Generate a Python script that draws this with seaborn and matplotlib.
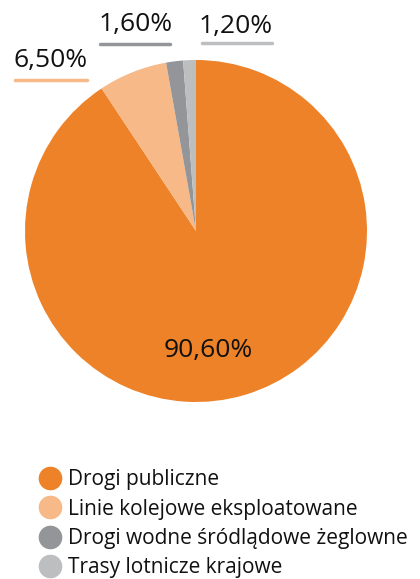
import matplotlib
matplotlib.use("Agg")
import matplotlib.pyplot as plt
from matplotlib.lines import Line2D
import seaborn as sns

# data
categories = ["Drogi publiczne", "Linie kolejowe eksploatowane",
              "Drogi wodne śródlądowe żeglowne", "Trasy lotnicze krajowe"]
shares = [90.6, 6.5, 1.6, 1.2]
labels = ["90,60%", "6,50%", "1,60%", "1,20%"]
colors = ["#ED8229", "#F6B987", "#939598", "#BCBEC0"]

sns.set_theme(style="white")
plt.rcParams['font.family'] = ['Open Sans', 'DejaVu Sans']

W, H = 420, 579
fig = plt.figure(figsize=(W / 100, H / 100), dpi=100)

# pie axes placed in pixels: centre (196, 231), radius 171
cx, cy, r = 196, 231, 171
ax = fig.add_axes([(cx - r) / W, 1 - (cy + r) / H, 2 * r / W, 2 * r / H])
ax.pie(shares, colors=colors, startangle=90, counterclock=False,
       radius=1, wedgeprops=dict(linewidth=0))
ax.set_xlim(-1, 1)
ax.set_ylim(-1, 1)
ax.set_aspect("equal")
ax.axis("off")

# big label inside
ax.text(0.07, -0.70, labels[0], ha="center", va="center", fontsize=19, color="#111111")

# small slice labels with coloured underlines (pixel positions)
small = [(51, 61, 15, 87, 80), (136, 24, 100, 170, 44), (236, 26, 202, 272, 43)]
for (tx, ty, x0, x1, ly), lab, col in zip(small, labels[1:], colors[1:]):
    fig.text(tx / W, 1 - ty / H, lab, ha="center", va="center", fontsize=19, color="#111111")
    fig.add_artist(Line2D([x0 / W, x1 / W], [1 - ly / H, 1 - ly / H],
                          color=col, linewidth=2.5, transform=fig.transFigure))

handles = [Line2D([], [], marker="o", linestyle="", markersize=16,
                  markerfacecolor=c, markeredgecolor=c) for c in colors]
fig.legend(handles, categories, loc="upper left", bbox_to_anchor=(27 / W, 1 - 459 / H),
           frameon=False, fontsize=15, handletextpad=0.25, labelspacing=0.4,
           borderpad=0, handlelength=1.2, labelcolor="#111111")

fig.savefig("out.png", dpi=100)
